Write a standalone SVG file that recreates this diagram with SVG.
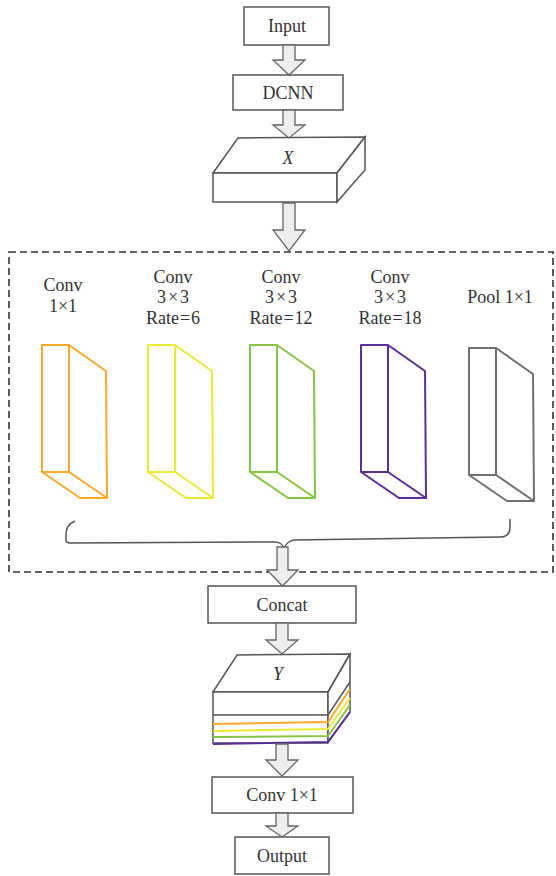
<svg xmlns="http://www.w3.org/2000/svg" xmlns:xlink="http://www.w3.org/1999/xlink" width="556" height="876" viewBox="0 0 556 876">
<style>
.box{fill:#fff;stroke:#555;stroke-width:1.5}
.arrow{fill:#eeeeee;stroke:#666;stroke-width:1.3;stroke-linejoin:miter}
text{font-family:'Liberation Serif','DejaVu Serif',serif;font-size:18px;fill:#333;text-anchor:middle}
.it{font-style:italic}
.dash{fill:none;stroke:#333;stroke-width:1.6;stroke-dasharray:7 4}
.prism{fill:none;stroke-width:2;stroke-linejoin:round}
</style>
<defs>
<path id="prism" d="M0,0 H27 V127 H0 Z M27,0 L64,26 L65,153 L27,127 M0,127 L38,153 H65"/>
</defs>
<rect class="dash" x="9" y="252" width="544" height="320"/>
<g id="input"><rect class="box" x="244" y="7" width="85" height="38"/><text x="287" y="32" font-family="Liberation Serif, serif">Input</text></g>
<g id="dcnn"><rect class="box" x="233" y="75" width="110" height="35"/><text x="288" y="99" font-family="Liberation Serif, serif">DCNN</text></g>
<g id="x">
<polygon class="box" points="213,173 238,138 365,137 337,173"/>
<rect class="box" x="213" y="173" width="124" height="29"/>
<polygon class="box" points="337,173 365,137 365,170 337,202"/>
<text class="it" x="288" y="164" font-family="Liberation Serif, serif">X</text>
</g>
<g id="conv1">
<text x="63" y="291" font-family="Liberation Serif, serif">Conv</text><text x="63" y="312" font-family="Liberation Serif, serif">1×1</text>
<use xlink:href="#prism" class="prism" stroke="#FBA92B" transform="translate(42,345)"/>
</g>
<g id="conv6">
<text x="173" y="283" font-family="Liberation Serif, serif">Conv</text>
<text x="173" y="303" font-family="Liberation Serif, serif">3<tspan dx="2">×</tspan><tspan dx="2">3</tspan></text>
<text x="173" y="324" font-family="Liberation Serif, serif">Rate<tspan dx="1">=</tspan><tspan dx="1">6</tspan></text>
<use xlink:href="#prism" class="prism" stroke="#EEE836" transform="translate(148,345)"/>
</g>
<g id="conv12">
<text x="281" y="283" font-family="Liberation Serif, serif">Conv</text>
<text x="281" y="303" font-family="Liberation Serif, serif">3<tspan dx="2">×</tspan><tspan dx="2">3</tspan></text>
<text x="281" y="324" font-family="Liberation Serif, serif">Rate<tspan dx="1">=</tspan><tspan dx="1">12</tspan></text>
<use xlink:href="#prism" class="prism" stroke="#86C443" transform="translate(250,345)"/>
</g>
<g id="conv18">
<text x="390" y="283" font-family="Liberation Serif, serif">Conv</text>
<text x="390" y="303" font-family="Liberation Serif, serif">3<tspan dx="2">×</tspan><tspan dx="2">3</tspan></text>
<text x="390" y="324" font-family="Liberation Serif, serif">Rate<tspan dx="1">=</tspan><tspan dx="1">18</tspan></text>
<use xlink:href="#prism" class="prism" stroke="#5A2E98" transform="translate(361,345)"/>
</g>
<g id="pool">
<text x="500" y="303" font-family="Liberation Serif, serif">Pool 1×1</text>
<use xlink:href="#prism" class="prism" stroke="#707070" stroke-width="1.6" transform="translate(469,348)"/>
</g>
<g id="concat"><rect class="box" x="208" y="586" width="148" height="37"/><text x="282" y="611" font-family="Liberation Serif, serif">Concat</text></g>
<g id="y">
<polygon class="box" points="213,692 237,655 350,654 328,692"/>
<rect class="box" x="213" y="692" width="115" height="51"/>
<polygon class="box" points="328,692 350,654 350,712 328,742"/>
<polyline fill="none" stroke="#555" stroke-width="1.5" points="213,715 328,715 350,682"/>
<polyline fill="none" stroke="#FBA92B" stroke-width="2" points="213,724 328,722 350,689"/>
<polyline fill="none" stroke="#EEE836" stroke-width="2" points="213,731 328,729 350,698"/>
<polyline fill="none" stroke="#86C443" stroke-width="2" points="213,737 328,736 350,705"/>
<polyline fill="none" stroke="#5A2E98" stroke-width="2" points="213,744 328,742 350,712"/>
<text class="it" x="278" y="680" font-family="Liberation Serif, serif">Y</text>
</g>
<g id="conv1x1"><rect class="box" x="212" y="777" width="141" height="36"/><text x="282" y="801" font-family="Liberation Serif, serif">Conv 1×1</text></g>
<g id="output"><rect class="box" x="235" y="837" width="94" height="37"/><text x="282" y="862" font-family="Liberation Serif, serif">Output</text></g>
<g id="connectors">
<path fill="none" stroke="#555" stroke-width="1.5" d="M75,521 C68,524 66,528 66,534 L66,540 Q66,543 70,543 L274,542 C280,542 282,544 284,548 C286,544 288,541 294,540 L500,537 C507,537 510,533 510,527 L510,519"/>
<polygon class="arrow" points="283,45 295,45 295,60 305,60 289,75 273,60 283,60"/>
<polygon class="arrow" points="283,110 295,110 295,125 305,125 289,138 273,125 283,125"/>
<polygon class="arrow" points="283,203 295,203 295,230 305,230 289,251 273,230 283,230"/>
<polygon class="arrow" points="277,547 288,547 288,570 298,570 282.5,586 267,570 277,570"/>
<polygon class="arrow" points="276,623 288,623 288,640 298,640 282,654 266,640 276,640"/>
<polygon class="arrow" points="276,744 288,744 288,760 298,760 282,776 266,760 276,760"/>
<polygon class="arrow" points="276,813 288,813 288,826 298,826 282,837 266,826 276,826"/>
</g>
</svg>
